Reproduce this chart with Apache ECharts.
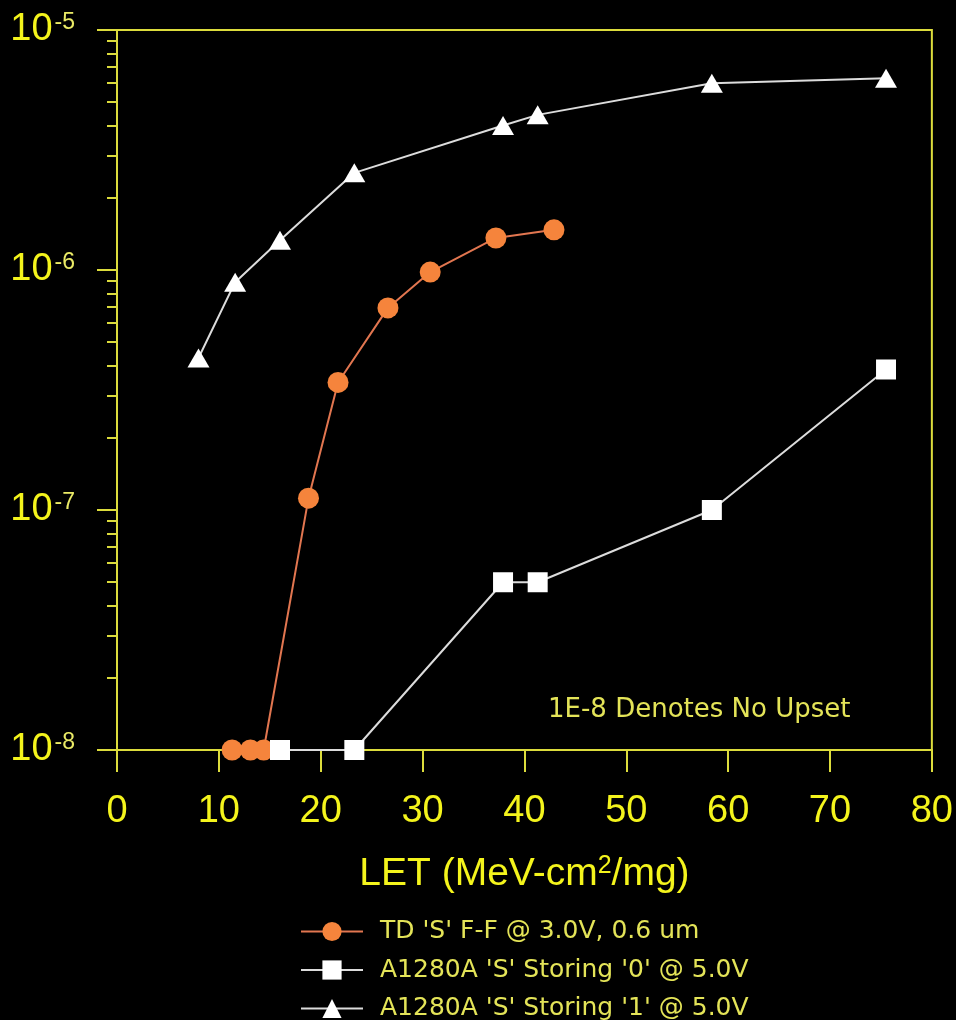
<!DOCTYPE html>
<html>
<head>
<meta charset="utf-8">
<script src="https://cdn.jsdelivr.net/npm/echarts@6/dist/echarts.min.js"></script>
<style>
html,body{margin:0;padding:0;background:#000;}
#chart{width:956px;height:1020px;}
</style>
</head>
<body>
<div id="chart"></div>
<script>
// ---- data ----
const xTicks = [0, 10, 20, 30, 40, 50, 60, 70, 80];
const yMajor = [1e-8, 1e-7, 1e-6, 1e-5];
const yMinor = [2e-8,3e-8,4e-8,5e-8,6e-8,7e-8,8e-8,9e-8,
                2e-7,3e-7,4e-7,5e-7,6e-7,7e-7,8e-7,9e-7,
                2e-6,3e-6,4e-6,5e-6,6e-6,7e-6,8e-6,9e-6];

const tdName = "TD 'S' F-F @ 3.0V, 0.6 um";
const tdLET = [11.3, 13.1, 14.4, 18.8, 21.7, 26.6, 30.75, 37.2, 42.9];
const tdXS  = [1e-8, 1e-8, 1e-8, 1.12e-7, 3.4e-7, 6.95e-7, 9.8e-7, 1.36e-6, 1.47e-6];

const s0Name = "A1280A 'S' Storing '0' @ 5.0V";
const s0LET = [16, 23.3, 37.9, 41.3, 58.4, 75.5];
const s0XS  = [1e-8, 1e-8, 5e-8, 5e-8, 1e-7, 3.85e-7];

const s1Name = "A1280A 'S' Storing '1' @ 5.0V";
const s1LET = [8, 11.6, 16, 23.3, 37.9, 41.3, 58.4, 75.5];
const s1XS  = [4.3e-7, 8.9e-7, 1.33e-6, 2.54e-6, 4.0e-6, 4.43e-6, 6.0e-6, 6.3e-6];

const annotation = '1E-8 Denotes No Upset';

// ---- styles ----
const axisColor = '#dcdc3c';
const labelColor = '#f4f41c';
const textColor = '#e4e458';
const sans = 'Liberation Sans, Arial, sans-serif';

function pairs(xs, ys) { return xs.map((x, i) => [x, ys[i]]); }

const chart = echarts.init(document.getElementById('chart'));
chart.setOption({
  backgroundColor: '#000',
  animation: false,
  grid: {
    left: 117, right: 21, top: 30, bottom: 270,
    show: true, borderColor: axisColor, borderWidth: 2, backgroundColor: 'transparent'
  },
  xAxis: {
    type: 'value', min: 0, max: 80, interval: 10,
    axisLine: { lineStyle: { color: axisColor, width: 2 } },
    axisTick: { length: 22, lineStyle: { color: axisColor, width: 2 } },
    splitLine: { show: false },
    axisLabel: {
      color: labelColor, fontSize: 38, fontFamily: sans, margin: 43,
      formatter: v => xTicks.includes(v) ? String(v) : ''
    },
    name: '{a|LET (MeV-cm}{s|2}{a|/mg)}',
    nameLocation: 'middle', nameGap: 104,
    nameTextStyle: {
      rich: {
        a: { color: labelColor, fontSize: 39, fontFamily: sans },
        s: { color: labelColor, fontSize: 25, fontFamily: sans, verticalAlign: 'top', lineHeight: 40 }
      }
    }
  },
  yAxis: [{
    type: 'log', logBase: 10, min: 1e-8, max: 1e-5,
    axisLine: { show: true, lineStyle: { color: axisColor, width: 2 } },
    axisTick: { show: true, length: 20, lineStyle: { color: axisColor, width: 2 } },
    splitLine: { show: false },
    axisLabel: {
      margin: 42,
      formatter: v => '{b|10}{s|' + Math.round(Math.log10(v)) + '}',
      rich: {
        b: { color: labelColor, fontSize: 38, fontFamily: sans },
        s: { color: '#eaea66', fontSize: 23, fontFamily: sans, verticalAlign: 'top', padding: [0, 0, 0, 2] }
      }
    }
  }, {
    type: 'log', logBase: 10, min: 1e-8, max: 1e-5, position: 'left',
    axisLine: { show: false },
    axisLabel: { show: false },
    splitLine: { show: false },
    axisTick: { show: true, length: 10, customValues: yMinor, lineStyle: { color: axisColor, width: 2 } }
  }],
  legend: {
    orient: 'vertical', left: 300, top: 919, padding: 0, height: 110,
    itemWidth: 62, itemHeight: 24, itemGap: 13.5,
    textStyle: { color: textColor, fontSize: 25, lineHeight: 24, fontFamily: 'DejaVu Sans, sans-serif', padding: [0, 0, 0, 12] },
    data: [tdName, s0Name, s1Name]
  },
  graphic: [{
    type: 'text', left: 548, top: 697,
    style: { text: annotation, fill: textColor, font: '26px "DejaVu Sans", sans-serif' }
  }],
  series: [{
    name: tdName, type: 'line', data: pairs(tdLET, tdXS),
    symbol: 'circle', symbolSize: 21,
    lineStyle: { color: '#e27650', width: 2 },
    itemStyle: { color: '#f5843c' }
  }, {
    name: s0Name, type: 'line', data: pairs(s0LET, s0XS),
    symbol: 'rect', symbolSize: 20,
    lineStyle: { color: '#dcdcdc', width: 2 },
    itemStyle: { color: '#ffffff' }
  }, {
    name: s1Name, type: 'line', data: pairs(s1LET, s1XS),
    symbol: 'triangle', symbolSize: [22, 19],
    lineStyle: { color: '#dcdcdc', width: 2 },
    itemStyle: { color: '#ffffff' }
  }]
});
</script>
</body>
</html>
